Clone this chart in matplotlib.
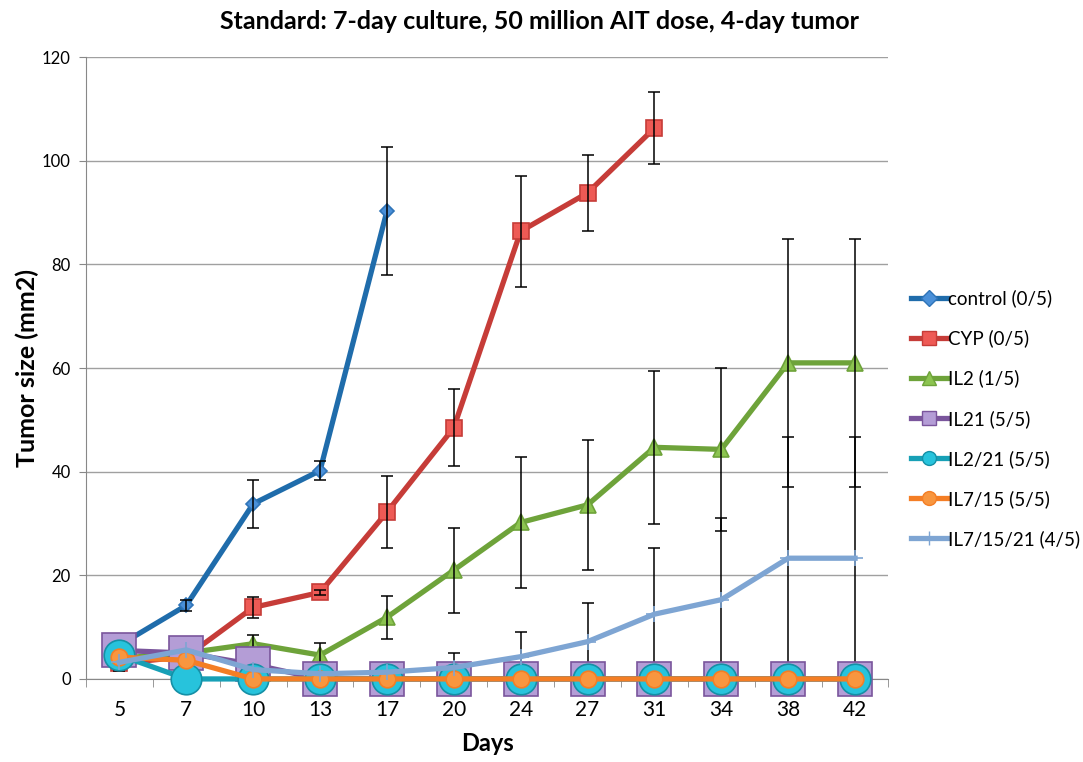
import numpy as np
import matplotlib
matplotlib.use("Agg")
from matplotlib import pyplot as plt
from matplotlib.lines import Line2D

plt.rcParams['font.family'] = ['Lato', 'DejaVu Sans']

days = ['5', '7', '10', '13', '17', '20', '24', '27', '31', '34', '38', '42']
nan = np.nan

# mean tumor size (mm2) per group, with error bars
control = [6.5, 14.2, 33.8, 40.2, 90.3, nan, nan, nan, nan, nan, nan, nan]
control_err = [0.5, 1.0, 4.6, 1.8, 12.4, nan, nan, nan, nan, nan, nan, nan]
cyp = [3.0, 4.3, 13.8, 16.7, 32.2, 48.5, 86.4, 93.8, 106.3, nan, nan, nan]
cyp_err = [1.5, 0.8, 2.0, 0.5, 7.0, 7.5, 10.7, 7.3, 7.0, nan, nan, nan]
il2 = [4.0, 5.0, 6.8, 4.6, 11.9, 21.0, 30.2, 33.6, 44.7, 44.3, 61.0, 61.0]
il2_err = [0.5, 0.5, 1.7, 2.4, 4.2, 8.2, 12.6, 12.5, 14.8, 15.7, 23.9, 23.9]
il21 = [5.5, 5.0, 2.8, 0, 0, 0, 0, 0, 0, 0, 0, 0]
il2_21 = [4.6, 0, 0, 0, 0, 0, 0, 0, 0, 0, 0, 0]
il7_15 = [4.2, 3.6, 0, 0, 0, 0, 0, 0, 0, 0, 0, 0]
il7_15_21 = [3.2, 5.6, 1.8, 1.0, 1.3, 2.2, 4.3, 7.2, 12.5, 15.3, 23.3, 23.3]
il7_15_21_err = [nan, nan, nan, nan, nan, 2.8, 4.7, 7.4, 12.8, 15.7, 23.4, 23.4]

x = np.arange(len(days))

fig = plt.figure(figsize=(10.83, 7.62), dpi=100)
ax = fig.add_axes([0.0794, 0.109, 0.741, 0.816])

handles = []

def series(y, err, label, line, face, edge, marker, ms, z, legend_ms, ez=None):
    y = np.array(y, dtype=float)
    ax.plot(x, y, color=line, lw=3.8, marker=marker, ms=ms, mfc=face,
            mec=edge, mew=1.2, zorder=z, clip_on=False)
    if err is not None:
        ax.errorbar(x, y, yerr=np.array(err, dtype=float), fmt='none',
                    ecolor='black', elinewidth=1.1, capsize=4.5, capthick=1.1,
                    zorder=ez if ez is not None else z + 0.5, clip_on=False)
    handles.append(Line2D([], [], color=line, lw=3.8, marker=marker,
                          ms=legend_ms, mfc=face, mec=edge, mew=1.0, label=label))

series(control, control_err, 'control (0/5)', '#1F6CAB', '#4A90D9', '#2F74B8', 'D', 7, 3, 8)
series(cyp, cyp_err, 'CYP (0/5)', '#C63C38', '#EE5A55', '#C63C38', 's', 11, 4, 10)
series(il2, il2_err, 'IL2 (1/5)', '#6EA33A', '#8CC450', '#6EA33A', '^', 11, 5, 10)
series(il21, None, 'IL21 (5/5)', '#7A559C', '#B49DD6', '#7A559C', 's', 24, 6, 10)
series(il2_21, None, 'IL2/21 (5/5)', '#17A0B6', '#27C3DC', '#1590A6', 'o', 22, 7, 10)
series(il7_15, None, 'IL7/15 (5/5)', '#F47E25', '#F8963F', '#F47E25', 'o', 12, 8, 10)
series(il7_15_21, il7_15_21_err, 'IL7/15/21 (4/5)', '#7EA5D3', '#7EA5D3', '#7EA5D3', '+', 12, 9, 10, ez=5.5)

ax.set_xlim(-0.5, len(days) - 0.5)
ax.set_ylim(0, 120)
ax.set_yticks(range(0, 121, 20))
ax.set_xticks(x)
ax.set_xticklabels(days, fontsize=15)
ax.set_xticks(np.arange(-0.5, len(days), 1), minor=True)
ax.tick_params(axis='x', which='major', length=0, pad=15)
ax.tick_params(axis='x', which='minor', length=6, color='#888888')
ax.tick_params(axis='y', labelsize=12, length=5, color='#888888', pad=6)
ax.yaxis.grid(True, color='#A0A0A0', lw=1.0)
ax.set_axisbelow(True)
for s in ['top', 'right']:
    ax.spines[s].set_visible(False)
for s in ['left', 'bottom']:
    ax.spines[s].set_color('#888888')

ax.set_xlabel('Days', fontsize=17, fontweight='bold', labelpad=9)
ax.set_ylabel('Tumor size (mm2)', fontsize=18, fontweight='bold', labelpad=2)
fig.text(0.498, 0.972, 'Standard: 7-day culture, 50 million AIT dose, 4-day tumor',
         ha='center', va='center', fontsize=18, fontweight='bold')

leg = fig.legend(handles=handles, loc='upper left', bbox_to_anchor=(0.826, 0.642),
                 frameon=False, fontsize=13.5, labelspacing=1.18, handlelength=1.9,
                 handletextpad=0.05)

fig.savefig('out.png', dpi=100)
